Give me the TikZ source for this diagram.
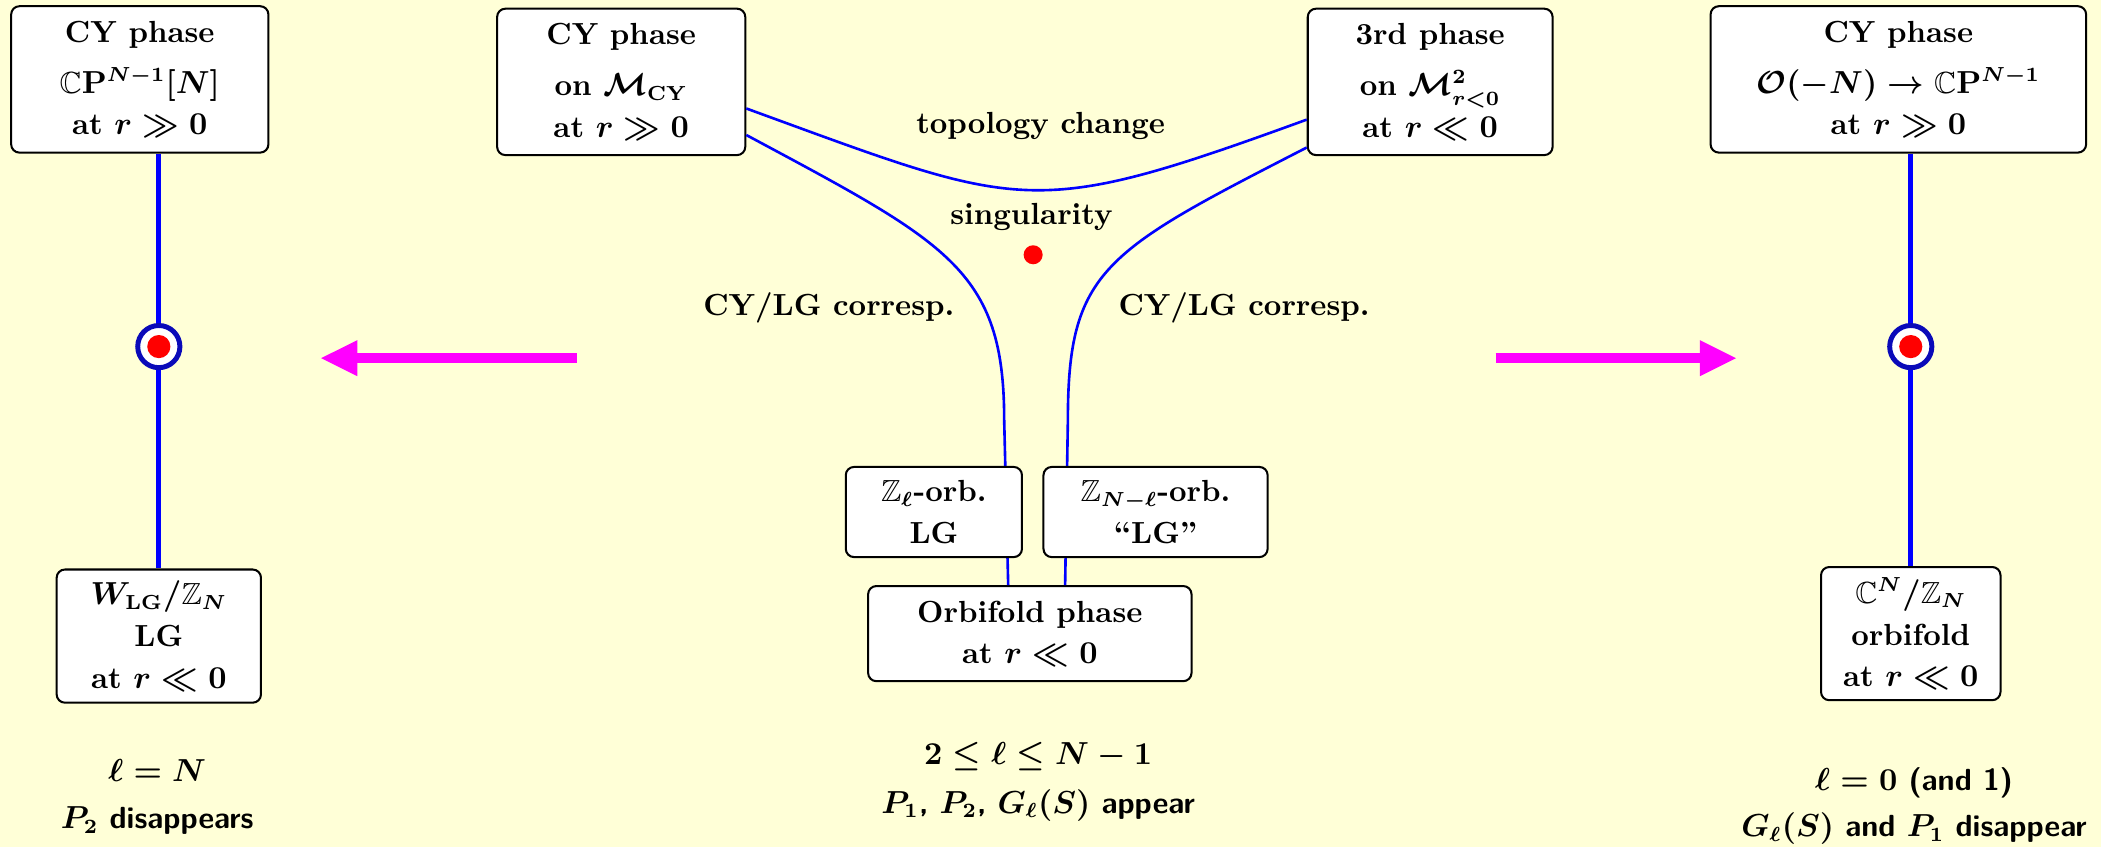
\documentclass[tikz,border=0pt]{standalone}
\usepackage{amssymb}
\usepackage{tikz}
\usetikzlibrary{arrows.meta}
\definecolor{bgyellow}{RGB}{255,255,215}
\definecolor{ringblue}{RGB}{10,10,185}
\definecolor{pushpink}{RGB}{255,0,255}

\begin{document}
\begin{tikzpicture}[
    phase/.style={draw, line width=0.7pt, rounded corners=0.1cm, fill=white,
      align=center, inner sep=0pt,
      font=\fontsize{10.5}{14.4}\selectfont\bfseries\boldmath},
    wire/.style={blue, line width=0.9pt},
    stem/.style={blue, line width=1.7pt},
    marker/.style={circle, draw=ringblue, line width=1.7pt, fill=white,
      minimum size=0.51cm, inner sep=0pt},
    push/.style={pushpink, line width=3.4pt,
      -{Triangle[length=0.45cm, width=0.4cm]}},
    note/.style={anchor=base, font=\fontsize{10.5}{14.4}\selectfont\bfseries\boldmath},
    cond/.style={anchor=base,
      font=\fontsize{10.5}{14.4}\selectfont\sffamily\bfseries\boldmath}]

  % Background
  \useasboundingbox (0,0) rectangle (25.40,10.24);
  \fill[bgyellow] (0,0) rectangle (25.40,10.24);

  % Top row
  \node[phase, minimum width=3.11cm, minimum height=1.77cm] (cpbox) at (1.69,9.28)
    {CY phase\\[3pt] $\mathbb{C}\mathbf{P}^{N-1}[N]$\\ at $r\gg 0$};
  \node[phase, minimum width=3.00cm, minimum height=1.77cm] (cybox) at (7.51,9.25)
    {CY phase\\[3pt] on $\mathcal{M}_{\mathrm{CY}}$\\ at $r\gg 0$};
  \node[phase, minimum width=2.96cm, minimum height=1.77cm] (thirdbox) at (17.29,9.25)
    {3rd phase\\[3pt] on $\mathcal{M}^2_{r<0}$\\ at $r\ll 0$};
  \node[phase, minimum width=4.54cm, minimum height=1.77cm] (ocpbox) at (22.95,9.28)
    {CY phase\\[3pt] $\mathcal{O}(-N)\to\mathbb{C}\mathbf{P}^{N-1}$\\ at $r\gg 0$};

  % Bottom row
  \node[phase, minimum width=2.47cm, minimum height=1.61cm] (lgbox) at (1.92,2.55)
    {$W_{\mathrm{LG}}/\mathbb{Z}_N$\\ LG\\ at $r\ll 0$};
  \node[phase, minimum width=2.17cm, minimum height=1.61cm] (orbnbox) at (23.10,2.58)
    {$\mathbb{C}^N/\mathbb{Z}_N$\\ orbifold\\ at $r\ll 0$};
  \node[phase, minimum width=3.91cm, minimum height=1.15cm] (orbbox) at (12.45,2.58)
    {Orbifold phase\\ at $r\ll 0$};

  % l = N and l = 0
  \draw[stem] (cpbox.south -| lgbox.north) -- (lgbox.north);
  \draw[stem] (ocpbox.south -| orbnbox.north) -- (orbnbox.north);
  \node[marker] (lmark) at (lgbox.north |- 0,6.05) {};
  \node[marker] (rmark) at (orbnbox.north |- 0,6.05) {};
  \fill[red] (lmark) circle (0.14);
  \fill[red] (rmark) circle (0.14);

  % Phase boundaries
  \draw[wire] (cybox.-12.7) to[out=-20, in=-160, looseness=1.35] (thirdbox.-163.6);
  \draw[wire] (cybox.-23.1) .. controls (11.46,7.30) and (12.14,6.98) .. (12.14,5.16)
    -- (orbbox.114.4);
  \draw[wire] (thirdbox.-152.8) .. controls (13.35,7.20) and (12.91,6.98) .. (12.91,5.16)
    -- (orbbox.54);

  \node[phase, minimum width=2.13cm, minimum height=1.09cm] (zlbox) at (11.29,4.05)
    {$\mathbb{Z}_\ell$-orb.\\ LG};
  \node[phase, minimum width=2.71cm, minimum height=1.09cm] (znlbox) at (13.97,4.05)
    {$\mathbb{Z}_{N-\ell}$-orb.\\ ``LG''};

  \fill[red] (12.49,7.16) circle (0.115);

  % Arrows
  \coordinate (ltail) at (6.97,5.91);
  \coordinate (lhead) at (3.87,5.91);
  \coordinate (rtail) at (18.08,5.91);
  \coordinate (rhead) at (21.00,5.91);
  \draw[push] (ltail) -- (lhead);
  \draw[push] (rtail) -- (rhead);

  % Labels
  \node[note] (topo) at (12.58,8.63) {topology change};
  \node[note] (sing) at (12.47,7.53) {singularity};
  \node[note] (lcorr) at (10.02,6.43) {CY/LG corresp.};
  \node[note] (rcorr) at (15.04,6.43) {CY/LG corresp.};

  \node[cond] (lval) at (1.90,0.79) {$\ell=N$};
  \node[cond] (leff) at (1.90,0.22) {$P_2$ disappears};
  \node[cond] (mval) at (12.55,1.00) {$2\le\ell\le N-1$};
  \node[cond] (meff) at (12.55,0.41) {$P_1$, $P_2$, $G_\ell(S)$ appear};
  \node[cond] (rval) at (23.14,0.68) {$\ell=0$ (and 1)};
  \node[cond] (reff) at (23.14,0.13) {$G_\ell(S)$ and $P_1$ disappear};
\end{tikzpicture}
\end{document}
